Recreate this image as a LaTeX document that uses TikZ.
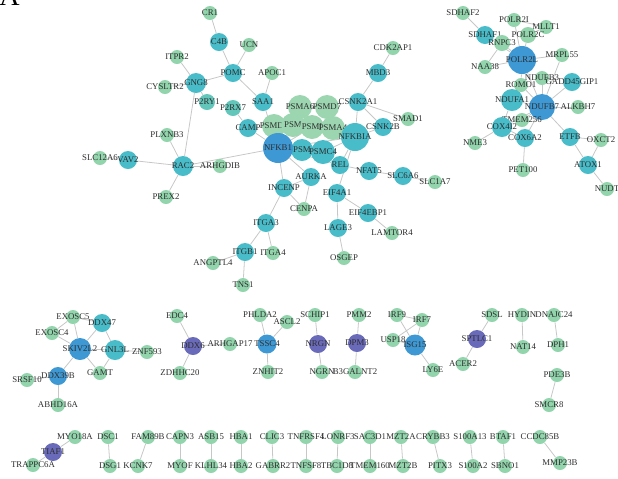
\documentclass[tikz,border=0pt]{standalone}
\usepackage{fontspec}
\setmainfont{Liberation Serif}
\usetikzlibrary{backgrounds}

\definecolor{lgreen}{RGB}{146,212,172}
\definecolor{pgreen}{RGB}{156,214,176}
\definecolor{mteal}{RGB}{98,198,186}
\definecolor{tealc}{RGB}{72,188,200}
\definecolor{blueh}{RGB}{62,152,212}
\definecolor{purp}{RGB}{106,106,186}

\tikzset{
  every label/.style={font=\fontsize{5}{5.2}\selectfont, text=black!82, inner sep=0pt},
  sm/.style={circle, fill=lgreen, inner sep=0pt, minimum size=0.28cm},
  mid/.style={sm, fill=mteal, minimum size=0.32cm},
  md/.style={sm, fill=tealc, minimum size=0.36cm},
  pale/.style={sm, fill=pgreen, minimum size=0.48cm},
  hub/.style={sm, fill=blueh, minimum size=0.4cm},
  pur/.style={sm, fill=purp, minimum size=0.36cm},
  edge/.style={draw=black!22, line width=0.45pt}
}

\begin{document}
\begin{tikzpicture}[x=0.02cm, y=-0.02cm]
  \useasboundingbox (0,0) rectangle (618,478);

  % Panel letter, cut at the top edge
  \begin{scope}
    \clip (0,0) rectangle (618,478);
    \node[anchor=base west, inner sep=0pt, font=\fontsize{16}{16}\selectfont] (panel) at (-1,5) {A};
  \end{scope}

  % NFKB1 network: left part
  \node[sm, label=center:CR1] (CR1) at (210,13) {};
  \node[md, label=center:C4B] (C4B) at (219,42) {};
  \node[sm, label=center:UCN] (UCN) at (249,45) {};
  \node[md, label=center:POMC] (POMC) at (233,73) {};
  \node[sm, label=center:APOC1] (APOC1) at (272,73) {};
  \node[sm, label=center:ITPR2] (ITPR2) at (177,57) {};
  \node[md, minimum size=0.4cm, label=center:GNG8] (GNG8) at (196,83) {};
  \node[sm, label=center:CYSLTR2] (CYSLTR2) at (165,87) {};
  \node[mid, label=center:P2RY1] (P2RY1) at (207,102) {};
  \node[mid, label=center:P2RX7] (P2RX7) at (233,108) {};
  \node[md, label=center:SAA1] (SAA1) at (263,102) {};
  \node[md, label=center:CAMP] (CAMP) at (248,128) {};
  \node[sm, label=center:PLXNB3] (PLXNB3) at (167,135) {};
  \node[sm, label=center:SLC12A6] (SLC12A6) at (100,158) {};
  \node[md, label=center:VAV2] (VAV2) at (128,160) {};
  \node[md, minimum size=0.4cm, label=center:RAC2] (RAC2) at (183,166) {};
  \node[sm, label=center:PREX2] (PREX2) at (166,197) {};
  \node[sm, label=center:ARHGDIB] (ARHGDIB) at (220,166) {};

  % NFKB1 network: proteasome core
  \node[pale, label=center:PSMA6] (PSMA6) at (300,107) {};
  \node[pale, label=center:PSMD7] (PSMD7) at (327,107) {};
  \node[pale, label=center:PSMD8] (PSMD8) at (274,126) {};
  \node[pale, label=center:PSM] (psmU) at (293,125) {};
  \node[pale, label=center:PSMI] (PSMI) at (312,127) {};
  \node[pale, label=center:PSMA4] (PSMA4) at (333,128) {};
  \node[md, minimum size=0.56cm, label=center:NFKBIA] (NFKBIA) at (355,137) {};
  \node[md, minimum size=0.44cm, label=center:PSM] (psmL) at (302,150) {};
  \node[md, minimum size=0.48cm, label=center:PSMC4] (PSMC4) at (323,152) {};
  \node[hub, minimum size=0.6cm, label=center:NFKB1] (NFKB1) at (278,148) {};

  % NFKB1 network: right and lower part
  \node[md, label=center:CSNK2A1] (CSNK2A1) at (358,102) {};
  \node[md, label=center:CSNK2B] (CSNK2B) at (383,127) {};
  \node[md, label=center:MBD3] (MBD3) at (378,73) {};
  \node[sm, label=center:CDK2AP1] (CDK2AP1) at (393,48) {};
  \node[sm, label=center:SMAD1] (SMAD1) at (408,119) {};
  \node[md, label=center:REL] (REL) at (340,165) {};
  \node[md, label=center:NFAT5] (NFAT5) at (369,171) {};
  \node[md, label=center:SLC6A6] (SLC6A6) at (403,176) {};
  \node[sm, label=center:SLC1A7] (SLC1A7) at (435,182) {};
  \node[md, label=center:AURKA] (AURKA) at (311,177) {};
  \node[md, label=center:INCENP] (INCENP) at (284,188) {};
  \node[sm, label=center:CENPA] (CENPA) at (304,209) {};
  \node[md, label=center:EIF4A1] (EIF4A1) at (337,193) {};
  \node[md, label=center:EIF4EBP1] (EIF4EBP1) at (368,213) {};
  \node[sm, label=center:LAMTOR4] (LAMTOR4) at (392,233) {};
  \node[md, label=center:LAGE3] (LAGE3) at (338,228) {};
  \node[sm, label=center:OSGEP] (OSGEP) at (344,258) {};
  \node[md, label=center:ITGA3] (ITGA3) at (266,223) {};
  \node[md, label=center:ITGB1] (ITGB1) at (245,252) {};
  \node[sm, label=center:ITGA4] (ITGA4) at (273,253) {};
  \node[sm, label=center:ANGPTL4] (ANGPTL4) at (213,263) {};
  \node[sm, label=center:TNS1] (TNS1) at (243,285) {};

  % POLR2L / NDUFB7 network
  \node[sm, label=center:SDHAF2] (SDHAF2) at (463,13) {};
  \node[sm, label=center:POLR2I] (POLR2I) at (514,20) {};
  \node[sm, label=center:MLLT1] (MLLT1) at (546,27) {};
  \node[md, label=center:SDHAF1] (SDHAF1) at (485,35) {};
  \node[sm, minimum size=0.32cm, label=center:POLR2C] (POLR2C) at (528,35) {};
  \node[sm, minimum size=0.32cm, label=center:RNPC3] (RNPC3) at (502,43) {};
  \node[sm, label=center:MRPL55] (MRPL55) at (562,55) {};
  \node[hub, minimum size=0.56cm, label=center:POLR2L] (POLR2L) at (522,60) {};
  \node[sm, label=center:NAA38] (NAA38) at (485,67) {};
  \node[sm, label=center:NDUFB3] (NDUFB3) at (542,78) {};
  \node[md, label=center:GADD45GIP1] (GADD45GIP1) at (572,82) {};
  \node[sm, label=center:ROMO1] (ROMO1) at (521,85) {};
  \node[md, minimum size=0.44cm, label=center:NDUFA1] (NDUFA1) at (512,100) {};
  \node[hub, minimum size=0.52cm, label=center:NDUFB7] (NDUFB7) at (542,107) {};
  \node[sm, label=center:ALKBH7] (ALKBH7) at (578,107) {};
  \node[sm, label=center:TMEM256] (TMEM256) at (522,120) {};
  \node[md, minimum size=0.4cm, label=center:COX4I2] (COX4I2) at (502,127) {};
  \node[sm, label=center:NME3] (NME3) at (475,143) {};
  \node[md, label=center:COX6A2] (COX6A2) at (525,138) {};
  \node[md, label=center:ETFB] (ETFB) at (570,137) {};
  \node[sm, label=center:OXCT2] (OXCT2) at (601,140) {};
  \node[md, label=center:ATOX1] (ATOX1) at (588,165) {};
  \node[sm, label=center:NUDT] (NUDT) at (607,189) {};
  \node[sm, label=center:PET100] (PET100) at (523,170) {};

  % SKIV2L2 network
  \node[sm, label=center:EXOSC5] (EXOSC5) at (73,317) {};
  \node[md, label=center:DDX47] (DDX47) at (102,323) {};
  \node[sm, label=center:EXOSC4] (EXOSC4) at (52,333) {};
  \node[hub, minimum size=0.44cm, label=center:SKIV2L2] (SKIV2L2) at (80,349) {};
  \node[md, minimum size=0.4cm, label=center:GNL3L] (GNL3L) at (115,350) {};
  \node[sm, label=center:ZNF593] (ZNF593) at (147,352) {};
  \node[sm, label=center:GAMT] (GAMT) at (100,373) {};
  \node[hub, minimum size=0.36cm, label=center:DDX39B] (DDX39B) at (58,376) {};
  \node[sm, label=center:SRSF10] (SRSF10) at (27,380) {};
  \node[sm, label=center:ABHD16A] (ABHD16A) at (58,405) {};

  % small groups, middle row
  \node[sm, label=center:EDC4] (EDC4) at (177,316) {};
  \node[pur, label=center:DDX6] (DDX6) at (193,346) {};
  \node[sm, label=center:ZDHHC20] (ZDHHC20) at (180,373) {};
  \node[sm, label=center:ARHGAP17] (ARHGAP17) at (230,344) {};
  \node[sm, label=center:PHLDA2] (PHLDA2) at (260,315) {};
  \node[sm, label=center:ASCL2] (ASCL2) at (287,322) {};
  \node[hub, minimum size=0.38cm, label=center:TSSC4] (TSSC4) at (267,344) {};
  \node[sm, label=center:ZNHIT2] (ZNHIT2) at (268,372) {};
  \node[sm, label=center:SCHIP1] (SCHIP1) at (315,315) {};
  \node[pur, label=center:NRGN] (NRGN) at (318,344) {};
  \node[sm, label=center:NGRN] (NGRN) at (322,372) {};
  \node[sm, label=center:PMM2] (PMM2) at (359,315) {};
  \node[pur, label=center:DPM3] (DPM3) at (357,343) {};
  \node[sm, label=center:B3GALNT2] (B3GALNT2) at (355,372) {};
  \node[sm, label=center:IRF9] (IRF9) at (397,315) {};
  \node[sm, label=center:IRF7] (IRF7) at (422,320) {};
  \node[sm, label=center:USP18] (USP18) at (393,340) {};
  \node[hub, minimum size=0.42cm, label=center:ISG15] (ISG15) at (415,345) {};
  \node[sm, label=center:LY6E] (LY6E) at (433,370) {};
  \node[sm, label=center:SDSL] (SDSL) at (492,315) {};
  \node[pur, label=center:SPTLC1] (SPTLC1) at (477,339) {};
  \node[sm, label=center:ACER2] (ACER2) at (463,364) {};
  \node[sm, label=center:HYDIN] (HYDIN) at (522,315) {};
  \node[sm, label=center:NAT14] (NAT14) at (523,347) {};
  \node[sm, label=center:DNAJC24] (DNAJC24) at (554,315) {};
  \node[sm, label=center:DPH1] (DPH1) at (558,345) {};
  \node[sm, label=center:PDE3B] (PDE3B) at (557,375) {};
  \node[sm, label=center:SMCR8] (SMCR8) at (549,405) {};

  % pairs, bottom row
  \node[sm, label=center:MYO18A] (MYO18A) at (75,437) {};
  \node[pur, label=center:TIAF1] (TIAF1) at (53,452) {};
  \node[sm, label=center:TRAPPC6A] (TRAPPC6A) at (33,465) {};
  \foreach \up/\dn/\xa/\xb in {DSC1/DSG1/108/110, FAM89B/KCNK7/148/138, CAPN3/MYOF/180/180,
      ASB15/KLHL34/211/211, HBA1/HBA2/241/241, CLIC3/GABRR2/272/273,
      TNFRSF4/TNFSF8/306/306, LONRF3/TBC1D8/338/337, SAC3D1/TMEM160/370/370,
      MZT2A/MZT2B/401/403, CRYBB3/PITX3/433/440, S100A13/S100A2/470/473,
      BTAF1/SBNO1/503/505}
  {
    \node[sm, label=center:\up] (\up) at (\xa,437) {};
    \node[sm, label=center:\dn] (\dn) at (\xb,466) {};
  }
  \node[sm, label=center:CCDC85B] (CCDC85B) at (540,437) {};
  \node[sm, label=center:MMP23B] (MMP23B) at (560,463) {};

  % all links, behind the nodes
  \begin{scope}[on background layer]
    \foreach \a/\b in {CR1/C4B, C4B/POMC, UCN/POMC, POMC/GNG8, POMC/SAA1, ITPR2/GNG8,
        CYSLTR2/GNG8, P2RY1/GNG8, GNG8/RAC2, PLXNB3/RAC2, VAV2/RAC2, SLC12A6/VAV2,
        PREX2/RAC2, RAC2/ARHGDIB, RAC2/NFKB1, APOC1/SAA1, SAA1/NFKB1, P2RX7/CAMP,
        CAMP/NFKB1, NFKB1/PSMD8, NFKB1/psmU, NFKB1/PSMI, NFKB1/psmL, NFKB1/PSMC4,
        NFKB1/NFKBIA, PSMA6/PSMD7, PSMA6/psmU, PSMA6/PSMI, PSMD7/PSMA4, PSMD7/PSMI,
        PSMI/PSMA4, PSMA4/NFKBIA, psmL/PSMC4, PSMC4/NFKBIA, NFKBIA/CSNK2A1,
        NFKBIA/CSNK2B, CSNK2A1/CSNK2B, CSNK2A1/MBD3, MBD3/CDK2AP1, CSNK2A1/SMAD1,
        NFKBIA/REL, NFKB1/REL, REL/NFAT5, NFAT5/SLC6A6, SLC6A6/SLC1A7, NFKB1/AURKA,
        AURKA/INCENP, AURKA/CENPA, INCENP/CENPA, NFKB1/INCENP, INCENP/ITGA3,
        ITGA3/ITGB1, ITGA3/ITGA4, ITGB1/ANGPTL4, ITGB1/TNS1, NFKBIA/EIF4A1,
        EIF4A1/EIF4EBP1, EIF4EBP1/LAMTOR4, EIF4A1/LAGE3, LAGE3/OSGEP}
      \draw[edge] (\a) -- (\b);
    \foreach \a/\b in {SDHAF2/SDHAF1, SDHAF1/POLR2L, SDHAF1/RNPC3, POLR2I/POLR2L,
        POLR2I/MLLT1, POLR2C/MLLT1, POLR2C/POLR2L, RNPC3/POLR2L, NAA38/POLR2L,
        NAA38/RNPC3, MRPL55/POLR2L, POLR2L/NDUFB7, POLR2L/ROMO1, NDUFB3/NDUFB7,
        GADD45GIP1/NDUFB7, MRPL55/NDUFB7, ROMO1/NDUFB7, NDUFA1/NDUFB7, NDUFA1/ROMO1,
        ALKBH7/NDUFB7, TMEM256/NDUFB7, COX4I2/NDUFB7, COX4I2/NME3, COX4I2/NDUFA1,
        COX6A2/NDUFB7, COX6A2/PET100, COX6A2/COX4I2, ETFB/NDUFB7, ETFB/OXCT2,
        ETFB/ATOX1, OXCT2/ATOX1, ATOX1/NUDT}
      \draw[edge] (\a) -- (\b);
    \foreach \a/\b in {EXOSC5/DDX47, EXOSC5/EXOSC4, EXOSC5/SKIV2L2, EXOSC4/SKIV2L2,
        DDX47/SKIV2L2, DDX47/GNL3L, SKIV2L2/GNL3L, GNL3L/ZNF593, SKIV2L2/GAMT,
        GNL3L/GAMT, SKIV2L2/DDX39B, DDX39B/SRSF10, DDX39B/ABHD16A,
        EDC4/DDX6, DDX6/ZDHHC20, DDX6/ARHGAP17, PHLDA2/TSSC4, ASCL2/TSSC4,
        TSSC4/ZNHIT2, SCHIP1/NRGN, NRGN/NGRN, PMM2/DPM3, DPM3/B3GALNT2,
        IRF9/IRF7, IRF9/ISG15, USP18/IRF7, USP18/ISG15, IRF7/ISG15, ISG15/LY6E,
        SDSL/SPTLC1, SPTLC1/ACER2, HYDIN/NAT14, DNAJC24/DPH1, PDE3B/SMCR8,
        TIAF1/MYO18A, TIAF1/TRAPPC6A, DSC1/DSG1, FAM89B/KCNK7, CAPN3/MYOF,
        ASB15/KLHL34, HBA1/HBA2, CLIC3/GABRR2, TNFRSF4/TNFSF8, LONRF3/TBC1D8,
        SAC3D1/TMEM160, MZT2A/MZT2B, CRYBB3/PITX3, S100A13/S100A2, BTAF1/SBNO1,
        CCDC85B/MMP23B}
      \draw[edge] (\a) -- (\b);
  \end{scope}
\end{tikzpicture}
\end{document}
